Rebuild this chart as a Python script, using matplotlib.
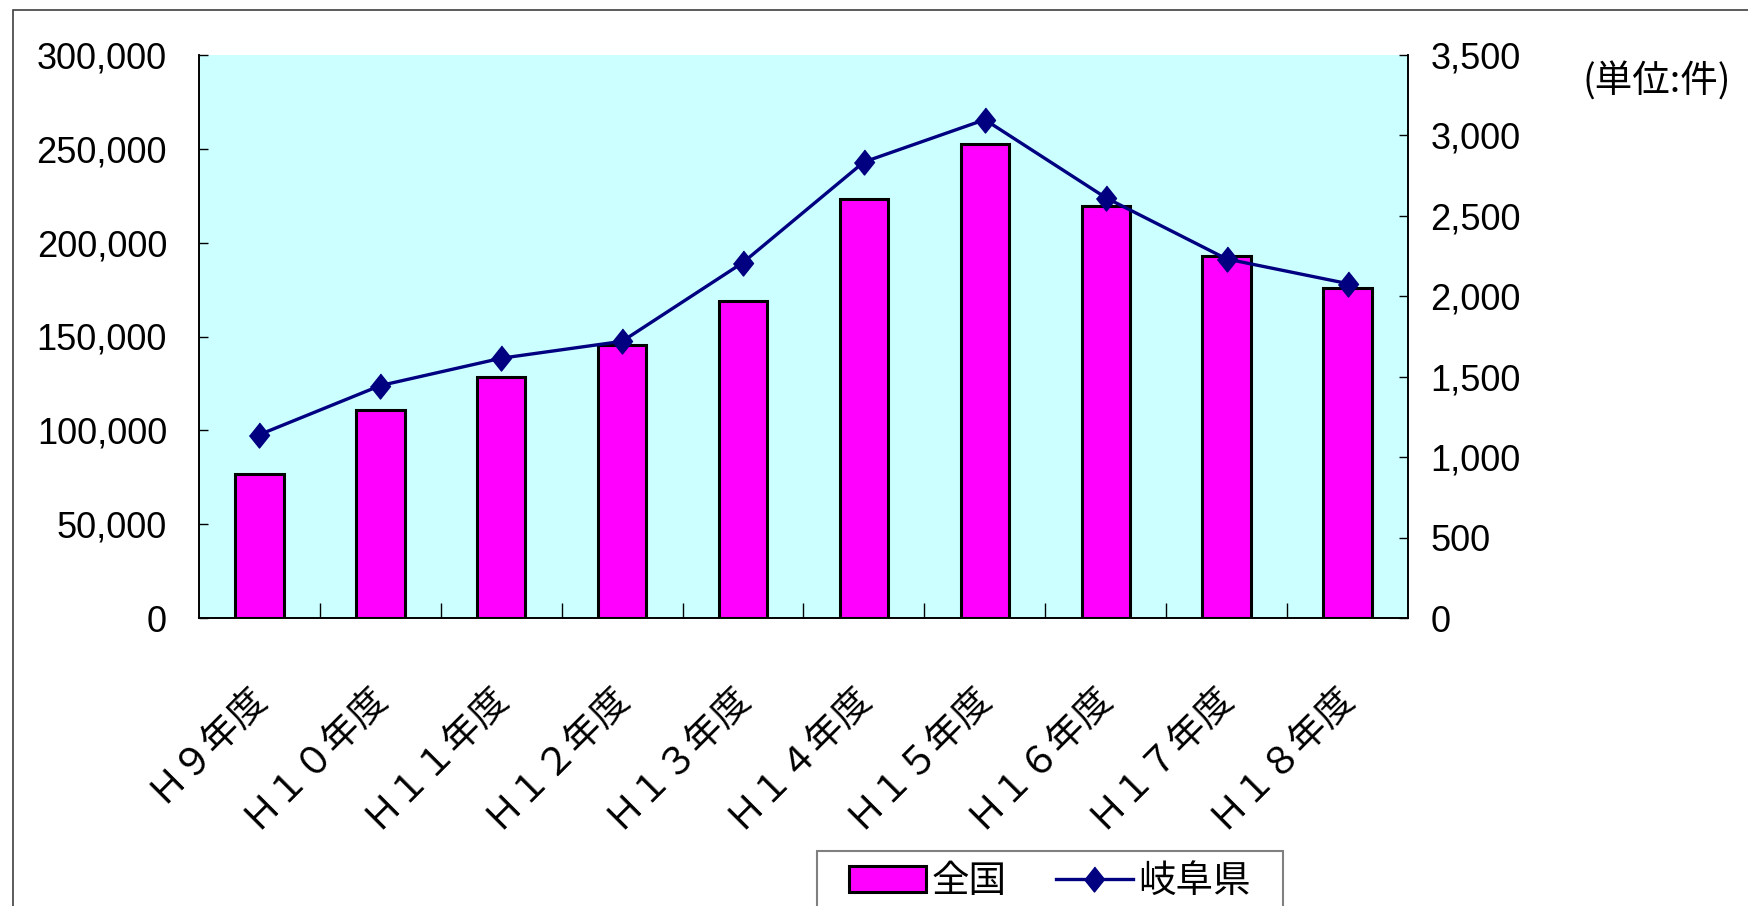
import matplotlib
matplotlib.use("Agg")
import matplotlib.pyplot as plt
import matplotlib.ticker as mticker
from matplotlib.patches import Rectangle
import numpy as np

# データ
years = ["Ｈ９年度", "Ｈ１０年度", "Ｈ１１年度", "Ｈ１２年度", "Ｈ１３年度",
         "Ｈ１４年度", "Ｈ１５年度", "Ｈ１６年度", "Ｈ１７年度", "Ｈ１８年度"]
zenkoku = [76500, 110800, 128300, 145500, 168700, 223400, 252500, 219800, 193100, 175900]
gifu = [1140, 1445, 1615, 1720, 2210, 2835, 3098, 2613, 2232, 2079]

num_font = ["Liberation Sans Narrow", "Liberation Sans", "DejaVu Sans"]
jp_font = ["Noto Sans CJK JP", "DejaVu Sans"]

W, H = 1749, 906
fig = plt.figure(figsize=(W / 100, H / 100), dpi=100)

# 外枠
fig.patches.append(Rectangle((13 / W, -0.1), 1.2, 1 - 10 / H + 0.1,
                             transform=fig.transFigure, fill=False,
                             edgecolor="#404040", linewidth=1.2))

ax = fig.add_axes([199 / W, 1 - 618 / H, 1209 / W, 563 / H])
ax.set_facecolor("#CCFFFF")
x = np.arange(len(years))

ax.bar(x, zenkoku, width=0.4, color="#FF00FF", edgecolor="black",
       linewidth=2.2, label="全国", zorder=2)
ax.set_xlim(-0.5, len(years) - 0.5)
ax.set_ylim(0, 300000)
ax.yaxis.set_major_locator(mticker.MultipleLocator(50000))
ax.yaxis.set_major_formatter(mticker.FuncFormatter(lambda v, p: f"{int(v):,}"))

ax2 = ax.twinx()
ax2.plot(x, gifu, color="#000080", linewidth=2.4, label="岐阜県",
         marker=[(0, 1), (0.8, 0), (0, -1), (-0.8, 0)], markersize=18,
         markerfacecolor="#000080", markeredgecolor="#000080")
ax2.set_ylim(0, 3500)
ax2.yaxis.set_major_locator(mticker.MultipleLocator(500))
ax2.yaxis.set_major_formatter(mticker.FuncFormatter(lambda v, p: f"{int(v):,}"))

for a in (ax, ax2):
    a.spines["top"].set_visible(False)
    for s in ("left", "right", "bottom"):
        a.spines[s].set_linewidth(1.2)
        a.spines[s].set_color("black")

ax.tick_params(axis="y", direction="in", length=6.5, width=1, pad=23)
ax2.tick_params(axis="y", direction="in", length=6.5, width=1, pad=16)
for lab in ax.get_yticklabels() + ax2.get_yticklabels():
    lab.set_fontfamily(num_font)
    lab.set_fontsize(26)

# X軸: 区切りに内向きの目盛り
ax.set_xticks(x)
ax.set_xticks(np.arange(0.5, len(years) - 0.5, 1), minor=True)
ax.tick_params(axis="x", which="major", length=0, pad=52)
ax.tick_params(axis="x", which="minor", direction="in", length=11, width=1)
ax.set_xticklabels(years, rotation=45, ha="right", va="center",
                   rotation_mode="anchor", fontsize=27, family=jp_font)

fig.text(1657 / W, 1 - 82 / H, "(単位:件)", ha="center", va="center",
         fontsize=27, family=jp_font)

# 凡例 (枠は別に描く)
h1, l1 = ax.get_legend_handles_labels()
h2, l2 = ax2.get_legend_handles_labels()
leg = fig.legend(h1 + h2, l1 + l2, loc="upper left",
                 bbox_to_anchor=(840 / W, 1 - 853 / H), ncol=2,
                 frameon=False, borderaxespad=0,
                 handlelength=2.05, handletextpad=0.15, columnspacing=1.3,
                 borderpad=0.25, prop={"family": jp_font, "size": 27})
fig.patches.append(Rectangle((817 / W, -0.05), 466 / W, 1 - 851 / H + 0.05,
                             transform=fig.transFigure, fill=False,
                             edgecolor="#808080", linewidth=1.5))

fig.savefig("out.png", dpi=100)
